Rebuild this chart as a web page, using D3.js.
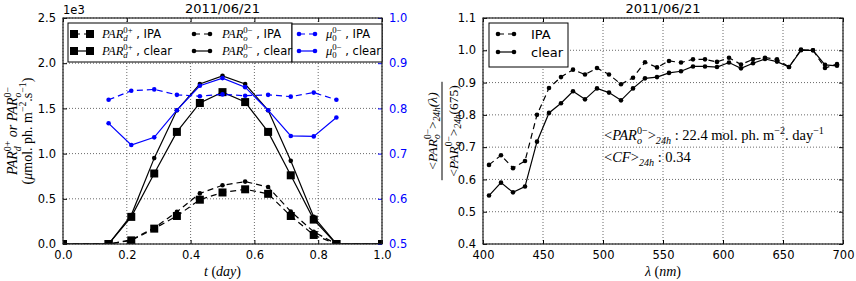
<!DOCTYPE html>
<html>
<head>
<meta charset="utf-8">
<script src="https://cdn.jsdelivr.net/npm/d3@7"></script>
<style>
  body { margin: 0; background: white; }
  svg { display: block; }
</style>
</head>
<body>
<div id="container"></div>
<script>
let w = 856;
let h = 281;

// left panel data (t in day, PAR in umol ph m-2 s-1)
let tDay = [0, 0.143, 0.214, 0.286, 0.357, 0.429, 0.5, 0.571, 0.643, 0.714, 0.786, 0.857, 1.0];
let parDIpa   = [0, 0, 40, 170, 310, 490, 570, 605, 555, 310, 100, 0, 0];
let parDClear = [0, 0, 300, 780, 1240, 1560, 1680, 1570, 1240, 760, 270, 0, 0];
let parOIpa   = [0, 0, 45, 180, 355, 560, 650, 690, 630, 360, 135, 0, 0];
let parOClear = [0, 0, 320, 950, 1480, 1770, 1860, 1770, 1480, 920, 300, 0, 0];
let tMu = [0.143, 0.214, 0.286, 0.357, 0.429, 0.5, 0.571, 0.643, 0.714, 0.786, 0.857];
let muIpa   = [0.819, 0.839, 0.842, 0.830, 0.827, 0.831, 0.828, 0.830, 0.826, 0.835, 0.819];
let muClear = [0.767, 0.719, 0.736, 0.796, 0.850, 0.867, 0.847, 0.796, 0.739, 0.738, 0.780];
let tTicks = [0, 0.2, 0.4, 0.6, 0.8, 1.0];
let parTicks = [0, 500, 1000, 1500, 2000, 2500];
let muTicks = [0.5, 0.6, 0.7, 0.8, 0.9, 1.0];

// right panel data
let lambda = [405, 415, 425, 435, 445, 455, 465, 475, 485, 495, 505, 515, 525, 535, 545,
              555, 565, 575, 585, 595, 605, 615, 625, 635, 645, 655, 665, 675, 685, 695];
let ratioIpa = [0.645, 0.675, 0.635, 0.657, 0.800, 0.883, 0.917, 0.940, 0.925, 0.945,
                0.925, 0.895, 0.915, 0.963, 0.947, 0.967, 0.962, 0.972, 0.972, 0.964,
                0.977, 0.956, 0.972, 0.977, 0.972, 0.948, 1.002, 1.000, 0.945, 0.957];
let ratioClear = [0.550, 0.590, 0.560, 0.578, 0.717, 0.806, 0.836, 0.873, 0.848, 0.882,
                  0.869, 0.845, 0.882, 0.913, 0.917, 0.930, 0.935, 0.950, 0.950, 0.948,
                  0.962, 0.944, 0.960, 0.973, 0.965, 0.948, 1.000, 1.000, 0.955, 0.952];
let lambdaTicks = [400, 450, 500, 550, 600, 650, 700];
let ratioTicks = [0.4, 0.5, 0.6, 0.7, 0.8, 0.9, 1.0, 1.1];

let sans = "DejaVu Sans";
let serif = "Liberation Serif";
let blue = "#0000ff";

let viz = d3.select("#container").append("svg")
  .attr("width", w).attr("height", h)
  .style("font-family", sans);

// math-ish text helper: parts = [text, style] ; style: it, rm, sub, subi, sup, supi, back(sup stacked over previous sub)
function mathText(g, x, y, parts, size, anchor) {
  let t = g.append("text").attr("x", x).attr("y", y).attr("font-size", size)
    .attr("text-anchor", anchor || "start");
  let cur = 0;
  let prev = null;
  parts.forEach(function(p){
    let txt = p[0], st = p[1];
    let it = "normal", fs = size, off = 0;
    if (st == "it") { it = "italic"; }
    if (st == "sub" || st == "subi") { fs = size * 0.7; off = size * 0.25; it = st == "subi" ? "italic" : "normal"; }
    if (st == "sup" || st == "supi" || st == "back") { fs = size * 0.7; off = -size * 0.42; it = st == "supi" ? "italic" : "normal"; }
    let ts = t.append("tspan").text(txt)
      .attr("font-family", serif).attr("font-style", it).attr("font-size", fs)
      .attr("dy", off - cur);
    if (st == "back" && prev) {
      ts.attr("dx", -prev.node().getComputedTextLength());
    }
    cur = off;
    prev = ts;
  });
  return t;
}

function frame(g, x0, x1, y0, y1) {
  g.append("rect").attr("x", x0).attr("y", y0).attr("width", x1 - x0).attr("height", y1 - y0)
    .attr("fill", "none").attr("stroke", "#222").attr("stroke-width", 1.2);
}

function grid(g, xs, ys, xTicks, yTicks) {
  g.selectAll(".gx").data(xTicks).enter().append("line")
    .attr("x1", d => xs(d)).attr("x2", d => xs(d))
    .attr("y1", ys.range()[0]).attr("y2", ys.range()[1])
    .attr("stroke", "#444").attr("stroke-width", 0.8).attr("stroke-dasharray", "1,2");
  g.selectAll(".gy").data(yTicks).enter().append("line")
    .attr("y1", d => ys(d)).attr("y2", d => ys(d))
    .attr("x1", xs.range()[0]).attr("x2", xs.range()[1])
    .attr("stroke", "#444").attr("stroke-width", 0.8).attr("stroke-dasharray", "1,2");
}

function series(g, xs, ys, xv, yv, opt) {
  let pts = xv.map((x, i) => [x, yv[i]]);
  let line = d3.line().x(d => xs(d[0])).y(d => ys(d[1]));
  g.append("path").attr("d", line(pts)).attr("fill", "none")
    .attr("stroke", opt.color).attr("stroke-width", 1.2)
    .attr("stroke-dasharray", opt.dash ? "6,4" : null);
  if (opt.marker == "s") {
    g.selectAll(null).data(pts).enter().append("rect")
      .attr("x", d => xs(d[0]) - 4).attr("y", d => ys(d[1]) - 4)
      .attr("width", 8).attr("height", 8).attr("fill", opt.color);
  } else {
    g.selectAll(null).data(pts).enter().append("circle")
      .attr("cx", d => xs(d[0])).attr("cy", d => ys(d[1]))
      .attr("r", 2.3).attr("fill", opt.color);
  }
}

function legendHandle(g, x, y, opt) {
  g.append("line").attr("x1", x).attr("x2", x + 16).attr("y1", y).attr("y2", y)
    .attr("stroke", opt.color).attr("stroke-width", 1.2)
    .attr("stroke-dasharray", opt.dash ? "6,4" : null);
  [x, x + 16].forEach(function(px){
    if (opt.marker == "s") {
      g.append("rect").attr("x", px - 4).attr("y", y - 4).attr("width", 8).attr("height", 8).attr("fill", opt.color);
    } else {
      g.append("circle").attr("cx", px).attr("cy", y).attr("r", 2.3).attr("fill", opt.color);
    }
  });
}

// ===================== left panel =====================
let L = { x0: 63, x1: 382, y0: 18, y1: 244 };
let xL = d3.scaleLinear().domain([0, 1]).range([L.x0, L.x1]);
let yL = d3.scaleLinear().domain([0, 2500]).range([L.y1, L.y0]);
let yMu = d3.scaleLinear().domain([0.5, 1.0]).range([L.y1, L.y0]);

let left = viz.append("g");
left.append("defs").append("clipPath").attr("id", "clipL")
  .append("rect").attr("x", L.x0).attr("y", L.y0).attr("width", L.x1 - L.x0).attr("height", L.y1 - L.y0);
left.append("defs").append("clipPath").attr("id", "clipR")
  .append("rect").attr("x", 483).attr("y", 18).attr("width", 360).attr("height", 226);

grid(left, xL, yL, tTicks, parTicks);

let lp = left.append("g").attr("clip-path", "url(#clipL)");
series(lp, xL, yL, tDay, parDIpa, { color: "black", dash: true, marker: "s" });
series(lp, xL, yL, tDay, parDClear, { color: "black", dash: false, marker: "s" });
series(lp, xL, yL, tDay, parOIpa, { color: "black", dash: true, marker: "o" });
series(lp, xL, yL, tDay, parOClear, { color: "black", dash: false, marker: "o" });
series(lp, xL, yMu, tMu, muIpa, { color: blue, dash: true, marker: "o" });
series(lp, xL, yMu, tMu, muClear, { color: blue, dash: false, marker: "o" });

// axes (ticks inside)
let axB = left.append("g").attr("transform", `translate(0,${L.y1})`)
  .call(d3.axisBottom(xL).tickValues(tTicks).tickSize(-4).tickPadding(7).tickFormat(d3.format(".1f")));
let axT = left.append("g").attr("transform", `translate(0,${L.y0})`)
  .call(d3.axisTop(xL).tickValues(tTicks).tickSize(-4).tickFormat(""));
let axLft = left.append("g").attr("transform", `translate(${L.x0},0)`)
  .call(d3.axisLeft(yL).tickValues(parTicks).tickSize(-4).tickPadding(7).tickFormat(d => (d / 1000).toFixed(1)));
let axRgt = left.append("g").attr("transform", `translate(${L.x1},0)`)
  .call(d3.axisRight(yMu).tickValues(muTicks).tickSize(-4).tickPadding(7).tickFormat(d3.format(".1f")));
[axB, axT, axLft, axRgt].forEach(function(a){
  a.select(".domain").remove();
  a.selectAll("text").attr("font-size", 11.5).attr("font-family", sans).attr("fill", "black");
  a.selectAll("line").attr("stroke", "black");
});
axRgt.selectAll("text").attr("fill", blue);
axRgt.selectAll("line").attr("stroke", blue);
frame(left, L.x0, L.x1, L.y0, L.y1);

left.append("text").text("1e3").attr("x", L.x0).attr("y", 14).attr("font-size", 11.5);
left.append("text").text("2011/06/21").attr("x", (L.x0 + L.x1) / 2).attr("y", 13)
  .attr("text-anchor", "middle").attr("font-size", 13);

// legends
left.append("rect").attr("x", 68).attr("y", 23).attr("width", 224).attr("height", 39)
  .attr("fill", "white").attr("stroke", "black").attr("stroke-width", 1);
left.append("rect").attr("x", 292).attr("y", 24).attr("width", 90).attr("height", 38)
  .attr("fill", "white").attr("stroke", "black").attr("stroke-width", 1);
let legL = [
  { x: 74, y: 34, opt: { color: "black", dash: true, marker: "s" }, name: "d", sup: "0+", tag: ", IPA" },
  { x: 74, y: 51, opt: { color: "black", dash: false, marker: "s" }, name: "d", sup: "0+", tag: ", clear" },
  { x: 194, y: 34, opt: { color: "black", dash: true, marker: "o" }, name: "o", sup: "0−", tag: ", IPA" },
  { x: 194, y: 51, opt: { color: "black", dash: false, marker: "o" }, name: "o", sup: "0−", tag: ", clear" }
];
legL.forEach(function(d){
  legendHandle(left, d.x, d.y, d.opt);
  let tx = mathText(left, d.x + 28, d.y + 4, [["PAR", "it"], [d.name, "subi"], [d.sup, "back"]], 12.5);
  tx.append("tspan").text(" " + d.tag).attr("font-family", sans).attr("font-size", 11.5)
    .attr("font-style", "normal").attr("dy", 5.25);
});
let legMu = [
  { y: 34, opt: { color: blue, dash: true, marker: "o" }, tag: ", IPA" },
  { y: 51, opt: { color: blue, dash: false, marker: "o" }, tag: ", clear" }
];
legMu.forEach(function(d){
  legendHandle(left, 299, d.y, d.opt);
  let tx = mathText(left, 326, d.y + 4, [["μ", "it"], ["0", "sub"], ["0−", "back"]], 12.5);
  tx.append("tspan").text(" " + d.tag).attr("font-family", sans).attr("font-size", 11.5)
    .attr("font-style", "normal").attr("dy", 5.25);
});

// axis titles
mathText(left, (L.x0 + L.x1) / 2, 276, [["t", "it"], [" (", "rm"], ["day", "it"], [")", "rm"]], 14, "middle");
let ylab = left.append("g").attr("transform", `translate(0,${(L.y0 + L.y1) / 2}) rotate(-90)`);
mathText(ylab, 0, 17, [["PAR", "it"], ["d", "subi"], ["0+", "back"], ["  or ", "it"], ["PAR", "it"], ["o", "subi"], ["0−", "back"]], 14, "middle");
mathText(ylab, 0, 32, [["(", "rm"], ["μ", "it"], ["mol. ph. m", "rm"], ["−2", "sup"], [".s", "rm"], ["−1", "sup"], [")", "rm"]], 14, "middle");

// ===================== right panel =====================
let R = { x0: 483, x1: 843, y0: 18, y1: 244 };
let xR = d3.scaleLinear().domain([400, 700]).range([R.x0, R.x1]);
let yR = d3.scaleLinear().domain([0.4, 1.1]).range([R.y1, R.y0]);

let right = viz.append("g");
grid(right, xR, yR, lambdaTicks, ratioTicks);
let rp = right.append("g").attr("clip-path", "url(#clipR)");
series(rp, xR, yR, lambda, ratioIpa, { color: "black", dash: true, marker: "o" });
series(rp, xR, yR, lambda, ratioClear, { color: "black", dash: false, marker: "o" });

let rB = right.append("g").attr("transform", `translate(0,${R.y1})`)
  .call(d3.axisBottom(xR).tickValues(lambdaTicks).tickSize(-4).tickPadding(7));
let rT = right.append("g").attr("transform", `translate(0,${R.y0})`)
  .call(d3.axisTop(xR).tickValues(lambdaTicks).tickSize(-4).tickFormat(""));
let rL = right.append("g").attr("transform", `translate(${R.x0},0)`)
  .call(d3.axisLeft(yR).tickValues(ratioTicks).tickSize(-4).tickPadding(7).tickFormat(d3.format(".1f")));
let rR = right.append("g").attr("transform", `translate(${R.x1},0)`)
  .call(d3.axisRight(yR).tickValues(ratioTicks).tickSize(-4).tickFormat(""));
[rB, rT, rL, rR].forEach(function(a){
  a.select(".domain").remove();
  a.selectAll("text").attr("font-size", 11.5).attr("font-family", sans).attr("fill", "black");
  a.selectAll("line").attr("stroke", "black");
});
frame(right, R.x0, R.x1, R.y0, R.y1);

right.append("text").text("2011/06/21").attr("x", (R.x0 + R.x1) / 2).attr("y", 13)
  .attr("text-anchor", "middle").attr("font-size", 13);

// legend
right.append("rect").attr("x", 489).attr("y", 23).attr("width", 79).attr("height", 44)
  .attr("fill", "white").attr("stroke", "black").attr("stroke-width", 1);
legendHandle(right, 498, 34, { color: "black", dash: true, marker: "o" });
legendHandle(right, 498, 52, { color: "black", dash: false, marker: "o" });
right.append("text").text("IPA").attr("x", 531).attr("y", 38.5).attr("font-size", 13);
right.append("text").text("clear").attr("x", 531).attr("y", 56.5).attr("font-size", 13);

// annotations
mathText(right, 604, 140, [["<", "rm"], ["PAR", "it"], ["o", "subi"], ["0−", "back"], [">", "rm"], ["24h", "subi"],
  [" : 22.4 mol. ph. m", "rm"], ["−2", "sup"], [". day", "rm"], ["−1", "sup"]], 14.5);
mathText(right, 604, 162, [["<", "rm"], ["CF", "it"], [">", "rm"], ["24h", "subi"], [" : 0.34", "rm"]], 14.5);

mathText(right, (R.x0 + R.x1) / 2, 276, [["λ", "it"], [" (", "rm"], ["nm", "it"], [")", "rm"]], 14, "middle");

let rlab = right.append("g").attr("transform", `translate(442,${(R.y0 + R.y1) / 2}) rotate(-90)`);
let num = mathText(rlab, 0, -5, [["<", "rm"], ["PAR", "it"], ["o", "subi"], ["0−", "back"], [">", "rm"], ["24h", "subi"], ["(λ)", "it"]], 13.5, "middle");
let den = mathText(rlab, 0, 16, [["<", "rm"], ["PAR", "it"], ["o", "subi"], ["0−", "back"], [">", "rm"], ["24h", "subi"], ["(675)", "rm"]], 13.5, "middle");
let barHalf = Math.max(num.node().getComputedTextLength(), den.node().getComputedTextLength()) / 2 + 1;
rlab.append("line").attr("x1", -barHalf).attr("x2", barHalf).attr("y1", 0).attr("y2", 0)
  .attr("stroke", "black").attr("stroke-width", 1);
</script>
</body>
</html>
